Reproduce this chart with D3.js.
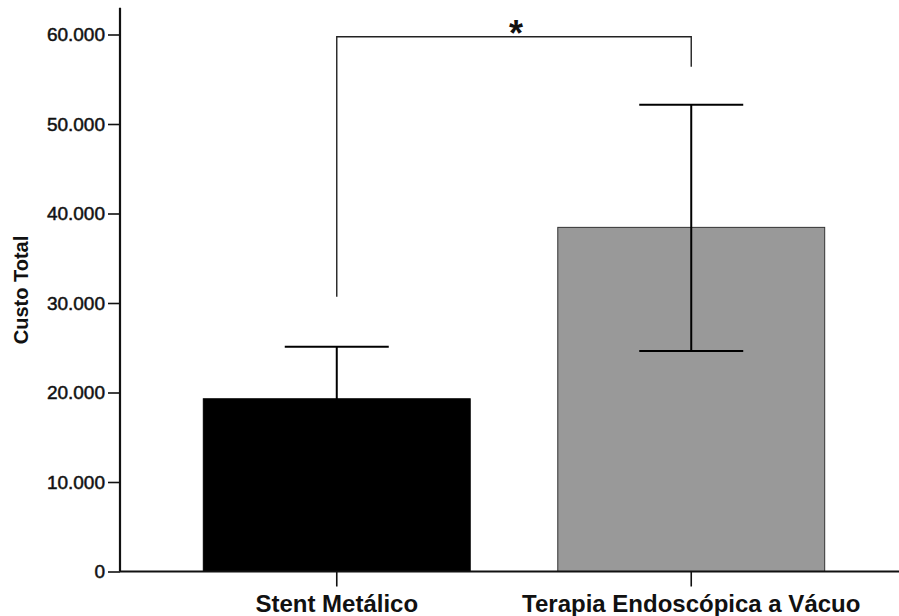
<!DOCTYPE html>
<html>
<head>
<meta charset="utf-8">
<script src="https://cdn.jsdelivr.net/npm/d3@7"></script>
<style>
  body { margin: 0; background: #fff; }
  text { font-family: "Liberation Sans", Arial, sans-serif; fill: #111; }
</style>
</head>
<body>
<div id="chart"></div>
<script>
// data
var categories = ["Stent Metálico", "Terapia Endoscópica a Vácuo"];
var means = [19300, 38450];
var errLow = [13500, 24650];
var errHigh = [25100, 52150];
var yTicks = [0, 10000, 20000, 30000, 40000, 50000, 60000];
// significance bracket: top and the two leg ends (in data units)
var bracketTop = 59750;
var bracketLegs = [30700, 56400];
var bracketMark = "*";

var svgWidth = 899;
var svgHeight = 616;

var svg = d3.select("#chart")
  .append("svg")
  .attr("width", svgWidth)
  .attr("height", svgHeight);

var x0 = 120, yBase = 571.5;

var xScale = d3.scaleBand()
  .domain(categories)
  .range([x0, 908])
  .paddingInner(0.247)
  .paddingOuter(0.235);

var yScale = d3.scaleLinear()
  .domain([0, 60000])
  .range([yBase, 34.5]);

var loc = d3.formatLocale({ decimal: ",", thousands: ".", grouping: [3], currency: ["", ""] });
var fmt = loc.format(",d");

var rows = categories.map(function(c, i) {
  return { cat: c, mean: means[i], lo: errLow[i], hi: errHigh[i], idx: i };
});

// bars
svg.selectAll("rect.bar")
  .data(rows)
  .enter()
  .append("rect")
  .attr("class", "bar")
  .attr("x", d => xScale(d.cat))
  .attr("y", d => yScale(d.mean))
  .attr("width", xScale.bandwidth())
  .attr("height", d => yScale(0) - yScale(d.mean))
  .attr("fill", d => d.idx === 0 ? "#000" : "#999")
  .attr("stroke", d => d.idx === 0 ? "#000" : "#333")
  .attr("stroke-width", 1);

// error bars
var capHalf = 52;
var eb = svg.selectAll("g.err")
  .data(rows)
  .enter()
  .append("g")
  .attr("class", "err")
  .attr("stroke", "#000")
  .attr("stroke-width", 2);

eb.append("line")
  .attr("x1", d => xScale(d.cat) + xScale.bandwidth() / 2)
  .attr("x2", d => xScale(d.cat) + xScale.bandwidth() / 2)
  .attr("y1", d => yScale(d.lo))
  .attr("y2", d => yScale(d.hi));
eb.append("line")
  .attr("x1", d => xScale(d.cat) + xScale.bandwidth() / 2 - capHalf)
  .attr("x2", d => xScale(d.cat) + xScale.bandwidth() / 2 + capHalf)
  .attr("y1", d => yScale(d.hi))
  .attr("y2", d => yScale(d.hi));
eb.append("line")
  .attr("x1", d => xScale(d.cat) + xScale.bandwidth() / 2 - capHalf)
  .attr("x2", d => xScale(d.cat) + xScale.bandwidth() / 2 + capHalf)
  .attr("y1", d => yScale(d.lo))
  .attr("y2", d => yScale(d.lo));

// y axis
var leftAxis = d3.axisLeft(yScale)
  .tickValues(yTicks)
  .tickFormat(fmt)
  .tickSize(12)
  .tickPadding(3);

var yAxis = svg.append("g")
  .attr("transform", `translate(${x0}, 0)`)
  .call(leftAxis);
yAxis.select(".domain").remove();
yAxis.selectAll(".tick line").attr("stroke", "#111").attr("stroke-width", 1.6);
yAxis.selectAll(".tick text")
  .attr("font-size", "19px")
  .attr("font-family", "Liberation Sans, Arial, sans-serif")
  .attr("fill", "#111")
  .attr("stroke", "#111")
  .attr("stroke-width", 0.5);

svg.append("line")
  .attr("x1", x0).attr("x2", x0)
  .attr("y1", yScale(63000)).attr("y2", yBase)
  .attr("stroke", "#111").attr("stroke-width", 2.2);

// x axis
var bottomAxis = d3.axisBottom(xScale).tickSize(15).tickPadding(3);
var xAxis = svg.append("g")
  .attr("transform", `translate(0, ${yBase})`)
  .call(bottomAxis);
xAxis.select(".domain").remove();
xAxis.selectAll(".tick line").attr("stroke", "#111").attr("stroke-width", 1.6);
xAxis.selectAll(".tick text")
  .attr("y", 40.5)
  .attr("dy", 0)
  .attr("font-size", "24px")
  .attr("font-weight", "bold")
  .attr("font-family", "Liberation Sans, Arial, sans-serif")
  .attr("fill", "#111");

svg.append("line")
  .attr("x1", x0).attr("x2", svgWidth)
  .attr("y1", yBase).attr("y2", yBase)
  .attr("stroke", "#111").attr("stroke-width", 2.2);

// y axis title
svg.append("text")
  .attr("transform", `translate(28, 290) rotate(-90)`)
  .attr("text-anchor", "middle")
  .attr("font-size", "20px")
  .attr("font-weight", "bold")
  .text("Custo Total");

// significance bracket
var bx = categories.map(c => xScale(c) + xScale.bandwidth() / 2);
svg.append("path")
  .attr("d", `M${bx[0]},${yScale(bracketLegs[0])}V${yScale(bracketTop)}H${bx[1]}V${yScale(bracketLegs[1])}`)
  .attr("fill", "none")
  .attr("stroke", "#222")
  .attr("stroke-width", 1.4);

svg.append("text")
  .attr("x", (bx[0] + bx[1]) / 2 + 2)
  .attr("y", 46)
  .attr("text-anchor", "middle")
  .attr("font-size", "36px")
  .attr("font-weight", "bold")
  .text(bracketMark);
</script>
</body>
</html>
